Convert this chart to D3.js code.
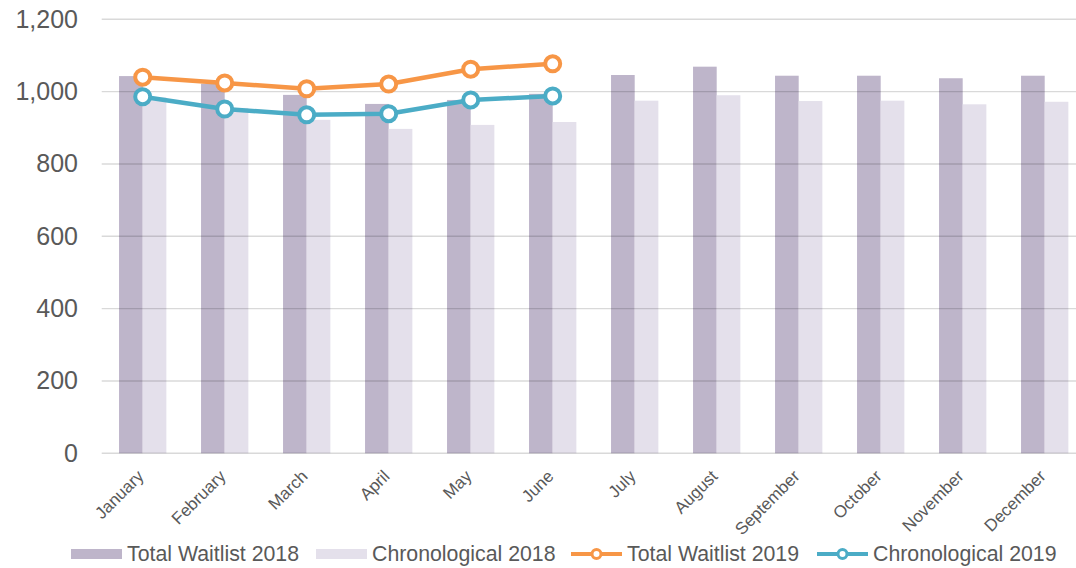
<!DOCTYPE html>
<html>
<head>
<meta charset="utf-8">
<script src="https://cdn.jsdelivr.net/npm/d3@7"></script>
<style>
  body { margin: 0; background: #fff; }
  text { font-family: "Liberation Sans", Arial, sans-serif; fill: #595959; }
</style>
</head>
<body>
<div id="chart-area"></div>
<script>

// Data
var months = ["January", "February", "March", "April", "May", "June",
	"July", "August", "September", "October", "November", "December"];
var total2018 = [1043, 1022, 991, 966, 977, 994, 1046, 1069, 1044, 1044, 1037, 1044];
var chrono2018 = [984, 955, 922, 897, 908, 916, 975, 990, 974, 975, 965, 972];
var total2019 = [1040, 1024, 1008, 1021, 1062, 1077];
var chrono2019 = [986, 952, 936, 939, 977, 988];
var yTicks = [0, 200, 400, 600, 800, 1000, 1200];

var colors = {
	total2018: "#beb5ca",
	chrono2018: "#e4e0eb",
	total2019: "#f79646",
	chrono2019: "#4bacc6"
};

var width = 1076, height = 568;

var svg = d3.select("#chart-area").append("svg")
	.attr("width", width)
	.attr("height", height);

// scales
var x = d3.scaleBand()
	.domain(months)
	.range([101.7, 1085.7]);

var groupW = x.bandwidth() * 0.577;
var xSub = d3.scaleBand()
	.domain(["total", "chrono"])
	.range([(x.bandwidth() - groupW) / 2, (x.bandwidth() + groupW) / 2]);

var y = d3.scaleLinear()
	.domain([0, 1200])
	.range([453.3, 19.3]);

// y axis labels
var yAxis = d3.axisLeft(y)
	.tickValues(yTicks)
	.tickSize(0)
	.tickPadding(0)
	.tickFormat(d3.format(","));

svg.append("g")
	.attr("class", "y-axis")
	.attr("transform", "translate(78,0)")
	.call(yAxis)
	.call(function(g) { g.select(".domain").remove(); })
	.selectAll("text")
	.attr("font-size", 25)
	.attr("fill", "#595959");

// bars
var barData = months.map(function(m, i) {
	return {month: m, total: total2018[i], chrono: chrono2018[i]};
});

var groups = svg.selectAll(".month")
	.data(barData)
	.enter().append("g")
	.attr("class", "month")
	.attr("transform", function(d) { return "translate(" + x(d.month) + ",0)"; });

groups.append("rect")
	.attr("x", xSub("total"))
	.attr("width", xSub.bandwidth())
	.attr("y", function(d) { return y(d.total); })
	.attr("height", function(d) { return y(0) - y(d.total); })
	.attr("fill", colors.total2018);

groups.append("rect")
	.attr("x", xSub("chrono"))
	.attr("width", xSub.bandwidth())
	.attr("y", function(d) { return y(d.chrono); })
	.attr("height", function(d) { return y(0) - y(d.chrono); })
	.attr("fill", colors.chrono2018);

// gridlines drawn over bars (semi transparent)
svg.append("g")
	.selectAll("line")
	.data(yTicks)
	.enter().append("line")
	.attr("x1", 101.7)
	.attr("x2", width)
	.attr("y1", function(d) { return y(d); })
	.attr("y2", function(d) { return y(d); })
	.attr("stroke", "rgba(0,0,0,0.15)")
	.attr("stroke-width", 1.4);

// x axis labels
var xAxis = d3.axisBottom(x).tickSize(0).tickPadding(0);
svg.append("g")
	.attr("class", "x-axis")
	.attr("transform", "translate(0," + y(0) + ")")
	.call(xAxis)
	.call(function(g) { g.select(".domain").remove(); })
	.selectAll("text")
	.attr("font-size", 17)
	.attr("fill", "#595959")
	.attr("text-anchor", "end")
	.attr("dy", null)
	.attr("y", 0)
	.attr("transform", "translate(2,24) rotate(-45)");

// lines 2019
var line = d3.line()
	.x(function(d, i) { return x(months[i]) + x.bandwidth() / 2; })
	.y(function(d) { return y(d); });

function drawSeries(values, color) {
	svg.append("path")
		.datum(values)
		.attr("d", line)
		.attr("fill", "none")
		.attr("stroke", color)
		.attr("stroke-width", 4.5)
		.attr("stroke-linejoin", "round");

	svg.append("g").selectAll("circle")
		.data(values)
		.enter().append("circle")
		.attr("cx", function(d, i) { return x(months[i]) + x.bandwidth() / 2; })
		.attr("cy", function(d) { return y(d); })
		.attr("r", 7.5)
		.attr("fill", "#fff")
		.attr("stroke", color)
		.attr("stroke-width", 4);
}

drawSeries(total2019, colors.total2019);
drawSeries(chrono2019, colors.chrono2019);

// legend
var legend = svg.append("g").attr("transform", "translate(0,554)");

var legendItems = [
	{label: "Total Waitlist 2018", color: colors.total2018, type: "bar", x: 71},
	{label: "Chronological 2018", color: colors.chrono2018, type: "bar", x: 316},
	{label: "Total Waitlist 2019", color: colors.total2019, type: "line", x: 571},
	{label: "Chronological 2019", color: colors.chrono2019, type: "line", x: 817}
];

legendItems.forEach(function(d) {
	var g = legend.append("g").attr("transform", "translate(" + d.x + ",0)");
	if (d.type === "bar") {
		g.append("rect")
			.attr("x", 0).attr("y", -5)
			.attr("width", 51).attr("height", 10)
			.attr("fill", d.color);
	} else {
		g.append("line")
			.attr("x1", 0).attr("x2", 51)
			.attr("stroke", d.color)
			.attr("stroke-width", 4);
		g.append("circle")
			.attr("cx", 25.5).attr("r", 4.5)
			.attr("fill", "#fff")
			.attr("stroke", d.color)
			.attr("stroke-width", 3);
	}
	g.append("text")
		.attr("x", 56)
		.attr("dy", "0.35em")
		.attr("font-size", 21.3)
		.text(d.label);
});

</script>
</body>
</html>
